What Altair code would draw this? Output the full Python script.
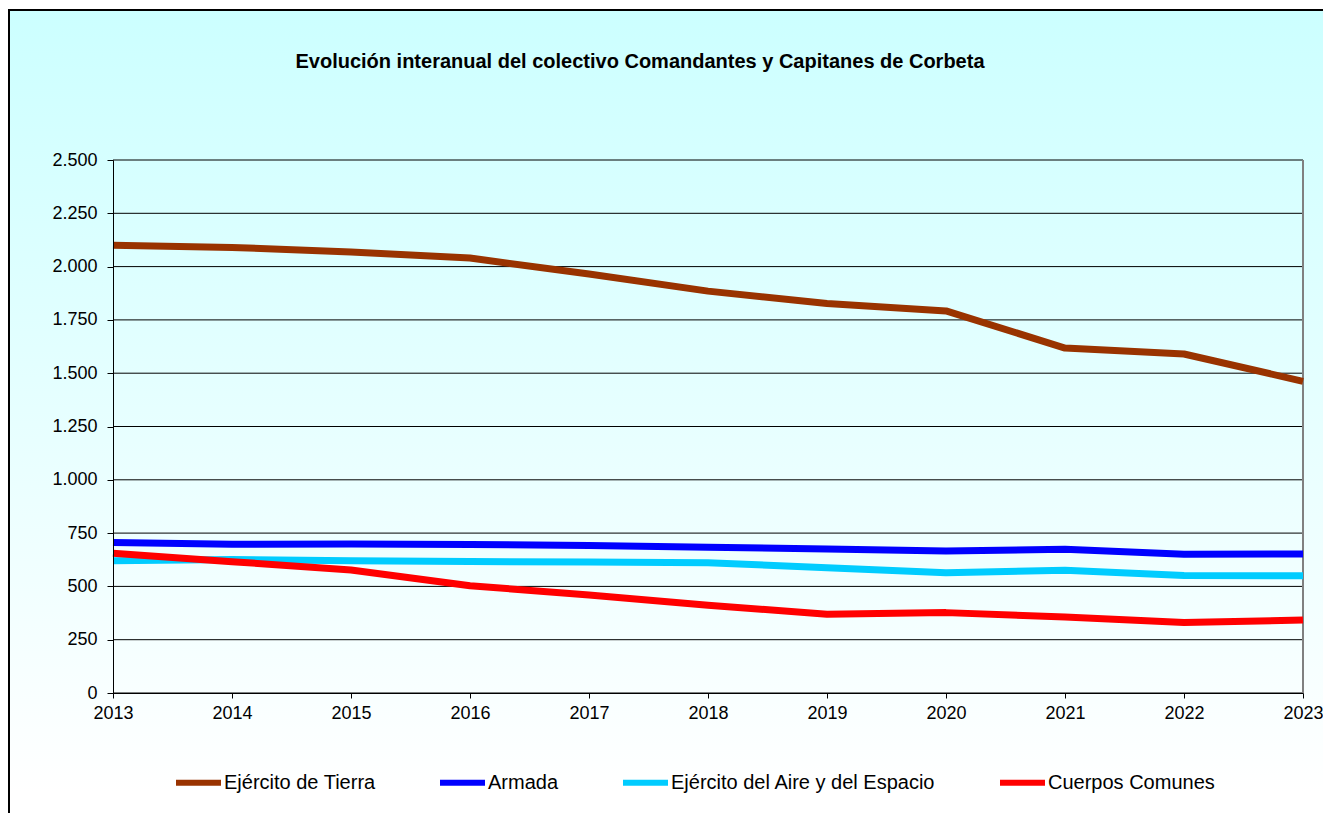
import altair as alt
import pandas as pd

years = [2013, 2014, 2015, 2016, 2017, 2018, 2019, 2020, 2021, 2022, 2023]
tierra = [2100, 2090, 2068, 2040, 1965, 1885, 1827, 1792, 1618, 1590, 1462]
armada = [706, 698, 699, 697, 692, 684, 676, 666, 674, 651, 652]
aire = [620, 626, 620, 617, 614, 611, 588, 564, 576, 551, 550]
comunes = [655, 616, 577, 503, 460, 412, 369, 377, 357, 331, 342]

series_names = ["Ejército de Tierra", "Armada", "Ejército del Aire y del Espacio", "Cuerpos Comunes"]
series_colors = ["#993300", "#0000FF", "#00CCFF", "#FF0000"]
y_ticks = [0, 250, 500, 750, 1000, 1250, 1500, 1750, 2000, 2250, 2500]
title_text = "Evolución interanual del colectivo Comandantes y Capitanes de Corbeta"

rows = []
for name, vals in zip(series_names, [tierra, armada, aire, comunes]):
    for yr, v in zip(years, vals):
        rows.append({"year": yr, "value": v, "serie": name})
df = pd.DataFrame(rows)
grid_df = pd.DataFrame({"value": y_ticks})
one = pd.DataFrame({"t": [title_text]})

W, H = 1190, 533
FONT = "Liberation Sans"

x_scale = alt.Scale(domain=[2013, 2023], nice=False, zero=False)
y_scale = alt.Scale(domain=[0, 2500], nice=False)

y_axis = alt.Axis(values=y_ticks, grid=False, title=None,
                  labelExpr="replace(format(datum.value, ','), ',', '.')",
                  labelFontSize=18, labelFont=FONT, labelColor="#000000",
                  tickColor="#000000", domainColor="#000000", tickSize=6,
                  labelPadding=10, zindex=1)
x_axis = alt.Axis(values=years, format="d", grid=False, title=None,
                  labelFontSize=18, labelFont=FONT, labelColor="#000000",
                  tickColor="#000000", domainColor="#000000", tickSize=5,
                  labelPadding=6, zindex=1, labelFlush=False)

bg = alt.Chart(one).mark_rect(
    fill=alt.Gradient(
        gradient="linear",
        stops=[alt.GradientStop(color="#CCFFFF", offset=0),
               alt.GradientStop(color="#FFFFFF", offset=0.9)],
        x1=0, x2=0, y1=0, y2=1),
    stroke="#000000", strokeWidth=2,
).encode(x=alt.value(-104), x2=alt.value(1240), y=alt.value(-150), y2=alt.value(720))

grid = alt.Chart(grid_df).mark_rule(color="#000000", strokeWidth=1).encode(
    y=alt.Y("value:Q", scale=y_scale, axis=y_axis)
)

right_border = alt.Chart(one).mark_rule(color="#808080", strokeWidth=2).encode(
    x=alt.value(W), y=alt.value(0), y2=alt.value(H)
)

lines = alt.Chart(df).mark_line(strokeWidth=7, strokeJoin="round").encode(
    x=alt.X("year:Q", scale=x_scale, axis=x_axis),
    y=alt.Y("value:Q", scale=y_scale, axis=y_axis),
    color=alt.Color("serie:N", sort=series_names,
                    scale=alt.Scale(domain=series_names, range=series_colors),
                    legend=alt.Legend(orient="none", legendX=60, legendY=597,
                                      direction="horizontal", columns=4,
                                      symbolType="stroke", symbolSize=2025,
                                      symbolStrokeWidth=6, labelFontSize=20,
                                      labelFont=FONT, labelColor="#000000",
                                      labelLimit=500,
                                      columnPadding=52, labelOffset=0, title=None)),
    order=alt.Order("year:Q"),
)

title = alt.Chart(one).mark_text(
    font=FONT, fontSize=20, fontWeight="bold", align="center", baseline="alphabetic",
    color="#000000"
).encode(text="t:N", x=alt.value(527), y=alt.value(-92))

chart = alt.layer(bg, grid, right_border, lines, title).properties(
    width=W, height=H,
    padding={"left": 105, "top": 152, "right": 20, "bottom": 120},
    autosize=alt.AutoSizeParams(type="none"),
).configure_view(strokeWidth=0).configure(background="white")

chart.save("out.html", embed_options={"renderer": "svg", "actions": False})
